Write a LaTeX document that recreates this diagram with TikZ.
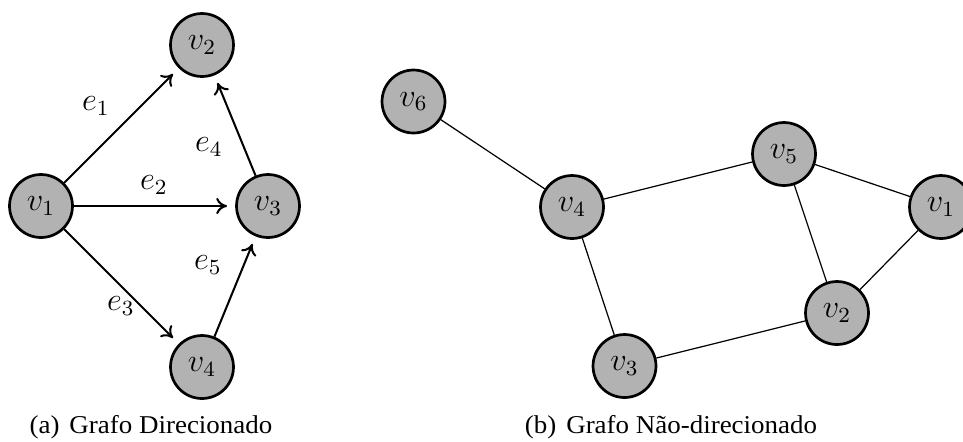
\documentclass[tikz,border=0pt]{standalone}
\usepackage{fontspec}
\usepackage{graphicx}
\setmainfont{Liberation Serif}
\usetikzlibrary{arrows.meta}
\newcommand{\captxt}[1]{\scalebox{1.05}[1]{\fontsize{9.5pt}{11pt}\selectfont #1}}
\begin{document}
\begin{tikzpicture}[x=0.37pt,y=-0.37pt,
  vert/.style={circle,draw=black,line width=1pt,fill=black!30,minimum size=23.3pt,inner sep=0pt,font=\large},
  darc/.style={-{To[length=4pt,width=6pt]},line width=0.75pt,shorten >=3pt},
  uedge/.style={line width=0.45pt},
  elab/.style={font=\large,inner sep=0pt},
  capt/.style={inner sep=0pt}]
\useasboundingbox (0,0) rectangle (963,441);
% (a)
\node[vert] (a1) at (41,206) {$v_1$};
\node[vert] (a2) at (202,45) {$v_2$};
\node[vert] (a3) at (268,206) {$v_3$};
\node[vert] (a4) at (202,367) {$v_4$};
\draw[darc] (a1) -- (a2);
\draw[darc] (a1) -- (a3);
\draw[darc] (a1) -- (a4);
\draw[darc] (a3) -- (a2);
\draw[darc] (a4) -- (a3);
\node[elab] (l1) at (96,106) {$e_1$};
\node[elab] (l2) at (154,185) {$e_2$};
\node[elab] (l3) at (121,306) {$e_3$};
\node[elab] (l4) at (209,147) {$e_4$};
\node[elab] (l5) at (208,265) {$e_5$};
\node[capt] (ca) at (151,427) {\captxt{(a)\hspace{3.5pt}Grafo Direcionado}};
% (b)
\node[vert] (b6) at (413.5,101.5) {$v_6$};
\node[vert] (b4) at (572,207) {$v_4$};
\node[vert] (b5) at (784,154) {$v_5$};
\node[vert] (b1) at (941,207) {$v_1$};
\node[vert] (b2) at (837,313) {$v_2$};
\node[vert] (b3) at (624.5,366) {$v_3$};
\draw[uedge] (b6) -- (b4);
\draw[uedge] (b4) -- (b5);
\draw[uedge] (b5) -- (b1);
\draw[uedge] (b5) -- (b2);
\draw[uedge] (b1) -- (b2);
\draw[uedge] (b4) -- (b3);
\draw[uedge] (b3) -- (b2);
\node[capt] (cb) at (671,427) {\captxt{(b)\hspace{3.5pt}Grafo Não-direcionado}};
\end{tikzpicture}
\end{document}
